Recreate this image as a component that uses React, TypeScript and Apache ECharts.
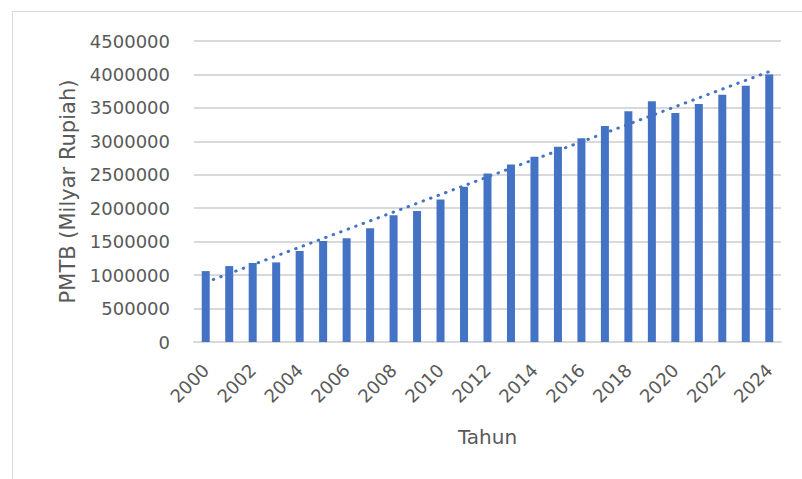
import React, { useEffect, useRef } from "react";
import * as echarts from "echarts";

const years: string[] = [
  "2000", "2001", "2002", "2003", "2004", "2005", "2006", "2007", "2008", "2009",
  "2010", "2011", "2012", "2013", "2014", "2015", "2016", "2017", "2018", "2019",
  "2020", "2021", "2022", "2023", "2024",
];

const pmtb: number[] = [
  1060000, 1135000, 1180000, 1190000, 1360000, 1510000, 1550000, 1700000, 1895000, 1960000,
  2130000, 2320000, 2520000, 2655000, 2770000, 2920000, 3045000, 3230000, 3450000, 3600000,
  3425000, 3560000, 3695000, 3830000, 4000000,
];

const yTicks = { min: 0, max: 4500000, interval: 500000 };

function linearTrend(values: number[]): number[] {
  const n = values.length;
  let sx = 0, sy = 0, sxy = 0, sxx = 0;
  values.forEach((v, i) => {
    sx += i; sy += v; sxy += i * v; sxx += i * i;
  });
  const b = (n * sxy - sx * sy) / (n * sxx - sx * sx);
  const a = (sy - b * sx) / n;
  return values.map((_, i) => a + b * i);
}

export default function App() {
  const ref = useRef<HTMLDivElement>(null);
  useEffect(() => {
    if (!ref.current) return;
    const chart = echarts.init(ref.current, null, { renderer: "svg" });
    const font = "DejaVu Sans";
    const grey = "#595959";
    chart.setOption({
      animation: false,
      backgroundColor: "#ffffff",
      grid: { left: 194, right: 21, top: 41, bottom: 137, containLabel: false },
      graphic: [
        {
          type: "rect",
          shape: { x: 12.5, y: 11.5, width: 800, height: 480 },
          style: { fill: "none", stroke: "#D9D9D9", lineWidth: 1 },
          silent: true,
        },
      ],
      xAxis: {
        type: "category",
        data: years,
        boundaryGap: true,
        name: "Tahun",
        nameLocation: "middle",
        nameGap: 85,
        nameTextStyle: { fontFamily: font, fontSize: 20, color: grey },
        axisLine: { show: true, lineStyle: { color: "#D9D9D9", width: 2 } },
        axisTick: { show: false },
        axisLabel: {
          interval: 1,
          rotate: 45,
          margin: 25,
          fontFamily: font,
          fontSize: 18,
          color: grey,
        },
      },
      yAxis: {
        type: "value",
        min: yTicks.min,
        max: yTicks.max,
        interval: yTicks.interval,
        name: "PMTB (Milyar Rupiah)",
        nameLocation: "middle",
        nameGap: 114,
        nameTextStyle: { fontFamily: font, fontSize: 21, color: grey },
        axisLine: { show: false },
        axisTick: { show: false },
        axisLabel: {
          margin: 24,
          fontFamily: font,
          fontSize: 18,
          color: grey,
          formatter: (v: number) => String(v),
        },
        splitLine: { show: true, lineStyle: { color: "#D9D9D9", width: 2 } },
      },
      series: [
        {
          type: "bar",
          data: pmtb,
          barWidth: 8,
          itemStyle: { color: "#4472C4" },
        },
        {
          type: "line",
          data: linearTrend(pmtb),
          symbol: "none",
          lineStyle: { color: "#4472C4", width: 3, type: [0.5, 7.5], cap: "round" },
          z: 3,
        },
      ],
    });
    return () => chart.dispose();
  }, []);
  return (
    <div
      ref={ref}
      style={{ position: "fixed", left: 0, top: 0, width: 802, height: 479 }}
    />
  );
}
